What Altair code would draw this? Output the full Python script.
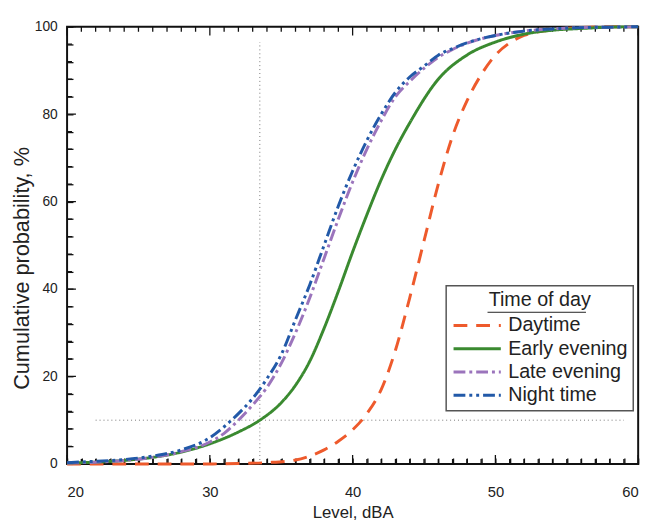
import altair as alt
import pandas as pd

# ---------------- data ----------------
series_names = ["Daytime", "Early evening", "Late evening", "Night time"]
series_colors = ["#EE5A2C", "#3A8A30", "#9B74BC", "#2259A8"]
series_dashes = [[14, 9], [1, 0], [12, 4, 3, 4], [12, 4, 3, 4, 3, 4]]

day_x = [20, 30, 32, 34, 36, 37, 38, 39, 40, 41, 42, 43, 44, 45, 46, 47, 48, 49, 50, 51, 52, 54, 56, 58, 60]
day_y = [0, 0, 0.1, 0.3, 0.9, 1.8, 3.2, 5.2, 7.8, 11.5, 17, 26, 38, 51, 64, 75, 83, 89, 93.5, 96.3, 98, 99.3, 99.8, 100, 100]

early_x = [20, 22, 24, 26, 28, 30, 32, 33.5, 35, 36, 37, 38, 39, 40, 41, 42, 43, 44, 46, 48, 50, 52, 54, 56, 58, 60]
early_y = [0.2, 0.4, 0.8, 1.5, 2.7, 4.6, 7.3, 10, 14, 18, 23.5, 31, 39.5, 48.5, 57, 65, 72, 78, 88, 93.5, 96.5, 98.3, 99.2, 99.6, 99.9, 100]

late_x = [20, 22, 24, 26, 28, 30, 31, 32, 33, 34, 35, 36, 37, 38, 39, 40, 41, 42, 43, 44, 45, 46, 47, 48, 50, 52, 54, 56, 58, 60]
late_y = [0.2, 0.4, 0.8, 1.5, 2.8, 5, 7, 10, 13.5, 17.5, 23, 30, 38, 47, 56, 64.5, 72, 78.5, 84, 87.5, 90.5, 93, 94.8, 96.2, 98, 99, 99.5, 99.8, 99.9, 100]

night_x = late_x
night_y = [0.3, 0.6, 1.0, 1.8, 3.2, 6, 8.5, 11.5, 15, 19.5, 25, 33, 41, 50, 59, 67, 74, 80, 85, 88.5, 91, 93.5, 95, 96.3, 98, 99, 99.5, 99.8, 99.9, 100]

x_major = [20, 30, 40, 50, 60]
x_minor = [v for v in range(21, 60) if v % 10 != 0]
y_major = [0, 20, 40, 60, 80, 100]
y_minor = [v for v in range(4, 100, 4) if v % 20 != 0]

ref_level = 33.5      # vertical dotted guide
ref_prob = 10         # horizontal dotted guide
ref_v_top = 96.5
ref_h_from, ref_h_to = 22, 59

# ---------------- frames ----------------
rows = []
for name, xs_, ys_ in [("Daytime", day_x, day_y), ("Early evening", early_x, early_y),
                       ("Late evening", late_x, late_y), ("Night time", night_x, night_y)]:
    for i, (a, b) in enumerate(zip(xs_, ys_)):
        rows.append({"series": name, "level": a, "prob": b, "order": i})
curves = pd.DataFrame(rows)

W, H = 580, 444
FONT = "Liberation Sans"
TXT = "#222"
X0, X1, Y0, Y1 = 20, 60, 0, 100
TICK_IN = 6   # inward tick length drawn by the axes
XMAJ, XMIN = 9 * (Y1 - Y0) / H, 5 * (Y1 - Y0) / H
YMAJ, YMIN = 9 * (X1 - X0) / W, 5 * (X1 - X0) / W

tick_rows = []
for v in x_major:
    tick_rows.append({"l0": v, "l1": v, "p0": Y0, "p1": Y0 + XMAJ})
    tick_rows.append({"l0": v, "l1": v, "p0": Y1, "p1": Y1 - XMAJ})
for v in x_minor:
    tick_rows.append({"l0": v, "l1": v, "p0": Y0, "p1": Y0 + XMIN})
    tick_rows.append({"l0": v, "l1": v, "p0": Y1, "p1": Y1 - XMIN})
for v in y_major:
    tick_rows.append({"l0": X0, "l1": X0 + YMAJ, "p0": v, "p1": v})
for v in y_minor:
    tick_rows.append({"l0": X0, "l1": X0 + YMIN, "p0": v, "p1": v})
ticks_df = pd.DataFrame(tick_rows)

xs = alt.Scale(domain=[X0, X1], nice=False, zero=False)
ys = alt.Scale(domain=[Y0, Y1], nice=False)

x_axis = alt.Axis(values=sorted(x_major + x_minor), title="Level, dBA",
                  ticks=True, tickSize={"expr": str(-TICK_IN)}, tickColor="#111", tickWidth=1.3,
                  domain=False, grid=False, labelOverlap=False,
                  labelExpr="datum.value % 10 === 0 ? datum.label : ''",
                  labelFontSize=15, labelFont=FONT, labelColor=TXT, labelPadding=21 + TICK_IN,
                  titleFontSize=17, titleFont=FONT, titleFontWeight="normal", titleColor=TXT,
                  titlePadding=5)
y_axis = alt.Axis(values=sorted(y_major + y_minor), title="Cumulative probability, %",
                  ticks=True, tickSize={"expr": str(-TICK_IN)}, tickColor="#111", tickWidth=1.3,
                  domain=False, grid=False, labelOverlap=False,
                  labelExpr="datum.value % 20 === 0 ? datum.label : ''",
                  labelFontSize=14, labelFont=FONT, labelColor=TXT, labelPadding=10 + TICK_IN,
                  titleFontSize=22, titleFont=FONT, titleFontWeight="normal", titleColor=TXT,
                  titlePadding=1, titleY=245)

legend = alt.Legend(
    orient="none", legendX=385, legendY=263, title="Time of day",
    titleFontSize=20, titleFont=FONT, titleFontWeight="normal", titleColor=TXT,
    titleAnchor="middle", titlePadding=4,
    labelFontSize=20, labelFont=FONT, labelColor=TXT, labelOffset=20,
    symbolType="M-2.4,0H2.4", symbolSize=400, symbolStrokeWidth=3, symbolOffset=15,
    strokeColor="#555", padding=5, rowPadding=1.6,
)

tick_marks = alt.Chart(ticks_df).mark_rule(color="#111", strokeWidth=1.3, strokeDash=[1, 0]).encode(
    x=alt.X("l0:Q", scale=xs, axis=x_axis), x2="l1:Q",
    y=alt.Y("p0:Q", scale=ys, axis=y_axis), y2="p1:Q",
)

vref = alt.Chart(pd.DataFrame({"level": [ref_level], "p0": [0], "p1": [ref_v_top]})).mark_rule(
    color="#777", strokeWidth=1, strokeDash=[1, 3]).encode(
    x=alt.X("level:Q", scale=xs, axis=x_axis), y=alt.Y("p0:Q", scale=ys, axis=y_axis), y2="p1:Q")
href = alt.Chart(pd.DataFrame({"l0": [ref_h_from], "l1": [ref_h_to], "prob": [ref_prob]})).mark_rule(
    color="#777", strokeWidth=1, strokeDash=[1, 3]).encode(
    x=alt.X("l0:Q", scale=xs, axis=x_axis), x2="l1:Q", y=alt.Y("prob:Q", scale=ys, axis=y_axis))

lines = alt.Chart(curves).mark_line(strokeWidth=3, interpolate="monotone").encode(
    x=alt.X("level:Q", scale=xs, axis=x_axis),
    y=alt.Y("prob:Q", scale=ys, axis=y_axis),
    color=alt.Color("series:N", scale=alt.Scale(domain=series_names, range=series_colors), legend=legend),
    strokeDash=alt.StrokeDash("series:N", scale=alt.Scale(domain=series_names, range=series_dashes),
                              legend=legend),
    order="order:Q",
    detail="series:N",
)

underline = alt.Chart(pd.DataFrame({"u": [0]})).mark_rule(color=TXT, strokeWidth=1).encode(
    x=alt.value(427), x2=alt.value(527), y=alt.value(290))

chart = alt.layer(tick_marks, vref, href, lines, underline).properties(
    width=W, height=H, padding={"left": 2, "top": 8, "right": 5, "bottom": 0}
).configure_view(stroke="#111", strokeWidth=2).configure_legend(strokeWidth=1.5)

chart.save("out.html", embed_options={"renderer": "svg", "actions": False})
